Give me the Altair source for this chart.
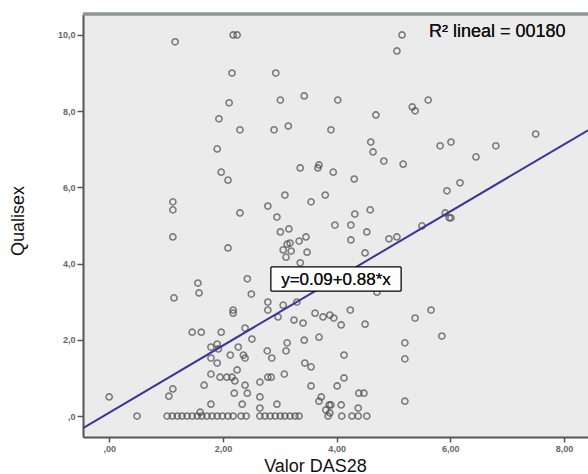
import altair as alt
import pandas as pd

# Valor DAS28 (x) and Qualisex (y)
das28 = [1.16, 2.18, 2.25, 2.16, 2.93, 2.11, 3.01, 3.43, 4.02, 4.69,
         1.93, 2.30, 2.90, 3.15, 3.90, 1.90, 4.60, 4.64, 1.97, 2.09,
         3.36, 3.69, 3.67, 3.94, 4.31, 5.15, 5.06, 5.33, 5.38, 5.61,
         4.83, 5.17, 5.82, 6.01, 6.45, 6.80, 7.50, 5.94, 6.17, 1.12,
         1.12, 2.30, 2.79, 3.09, 2.95, 3.80, 3.55, 4.32, 4.59, 5.91,
         6.01, 5.98, 3.97, 4.25, 4.53, 4.92, 5.06, 5.50, 3.01, 3.16,
         3.18, 3.34, 3.46, 1.12, 2.09, 3.13, 3.06, 3.20, 3.11, 3.48,
         4.25, 4.50, 3.36, 1.56, 1.58, 1.14, 2.43, 2.50, 2.18, 2.18,
         2.79, 2.79, 3.06, 3.30, 4.71, 2.97, 3.25, 3.41, 3.62, 3.76,
         3.88, 4.24, 3.95, 4.08, 4.50, 5.38, 5.66, 5.85, 1.46, 1.62,
         1.97, 2.39, 2.51, 1.79, 1.90, 1.92, 1.79, 1.90, 2.13, 2.27,
         2.36, 2.39, 2.78, 2.86, 3.13, 3.11, 3.43, 3.69, 5.20, 5.20,
         4.13, 3.44, 3.55, 1.79, 1.95, 2.07, 2.16, 2.25, 2.21, 2.65,
         2.79, 2.85, 3.08, 3.55, 4.13, 4.01, 1.67, 2.39, 2.43, 2.20,
         2.65, 1.12, 1.05, 0.00, 1.79, 2.34, 2.65, 2.95, 3.73, 3.69,
         3.81, 3.88, 3.87, 4.39, 4.48, 5.20, 3.90, 4.08, 4.38, 1.60,
         0.49,
         1.02, 1.11, 1.20, 1.28, 1.37, 1.46, 1.55, 1.63, 1.72, 1.81,
         1.90, 1.99, 2.09, 2.18, 2.32, 2.41, 2.65, 2.74, 2.83, 2.92,
         3.01, 3.09, 3.18, 3.27, 3.34, 3.85, 4.09, 4.27, 4.38, 4.53]

qualisex = [9.82, 10.0, 10.0, 9.00, 9.00, 8.22, 8.29, 8.40, 8.29, 7.90,
            7.80, 7.51, 7.51, 7.61, 7.51, 7.01, 7.19, 6.93, 6.40, 6.19,
            6.51, 6.59, 6.51, 6.40, 6.22, 10.0, 9.58, 8.11, 8.01, 8.29,
            6.69, 6.61, 7.09, 7.19, 6.80, 7.09, 7.40, 5.91, 6.12, 5.62,
            5.41, 5.33, 5.51, 5.80, 5.22, 5.80, 5.62, 5.30, 5.41, 5.33,
            5.20, 5.20, 5.01, 5.01, 4.83, 4.65, 4.70, 4.99, 4.83, 4.91,
            4.54, 4.59, 4.70, 4.70, 4.41, 4.51, 4.36, 4.33, 4.17, 4.30,
            4.62, 4.28, 4.02, 3.49, 3.23, 3.10, 3.60, 3.20, 2.78, 2.70,
            2.99, 2.78, 2.91, 2.99, 3.25, 2.60, 2.52, 2.44, 2.70, 2.60,
            2.65, 2.78, 2.57, 2.39, 2.41, 2.57, 2.78, 2.10, 2.20, 2.20,
            2.20, 2.31, 2.02, 1.81, 1.89, 1.76, 1.52, 1.39, 1.60, 1.81,
            1.60, 1.52, 1.71, 1.52, 1.92, 1.71, 1.99, 2.07, 1.92, 1.50,
            1.60, 1.39, 1.29, 1.10, 1.02, 1.02, 1.02, 1.21, 0.92, 0.89,
            1.02, 1.02, 1.10, 0.79, 1.00, 0.79, 0.81, 0.81, 0.60, 0.60,
            0.50, 0.71, 0.52, 0.50, 0.31, 0.31, 0.21, 0.31, 0.50, 0.39,
            0.16, 0.08, 0.29, 0.60, 0.60, 0.39, 0.29, 0.29, 0.21, 0.10,
            0.00,
            0.0, 0.0, 0.0, 0.0, 0.0, 0.0, 0.0, 0.0, 0.0, 0.0,
            0.0, 0.0, 0.0, 0.0, 0.0, 0.0, 0.0, 0.0, 0.0, 0.0,
            0.0, 0.0, 0.0, 0.0, 0.0, 0.0, 0.0, 0.0, 0.0, 0.0]

x_ticks = [0, 2, 4, 6, 8]
y_ticks = [0, 2, 4, 6, 8, 10]
x_domain = [-0.46, 8.42]
y_domain = [-0.55, 10.55]
intercept = 0.09
slope = 0.88

pts = pd.DataFrame({"das28": das28, "qualisex": qualisex})
fit = pd.DataFrame({"das28": x_domain})

W, H = 505, 423
FONT = "Liberation Sans"

x_enc = alt.X(
    "das28:Q",
    scale=alt.Scale(domain=x_domain, nice=False, zero=False),
    axis=alt.Axis(
        values=x_ticks,
        labelExpr="datum.value == 0 ? ',00' : replace(format(datum.value, '.2f'), '.', ',')",
        title="Valor DAS28",
        grid=False,
        domainColor="#555555", domainWidth=2,
        tickColor="#555555", tickSize=5, tickWidth=1.5,
        labelColor="#666666", labelFontSize=9, labelFontWeight="bold",
        labelPadding=2, labelFont=FONT,
        titleFont=FONT, titleFontSize=18, titleFontWeight="normal",
        titleColor="#111111", titleX=232, titleY=34,
        titleAlign="center", titleBaseline="alphabetic",
    ),
)
y_enc = alt.Y(
    "qualisex:Q",
    scale=alt.Scale(domain=y_domain, nice=False, zero=False),
    axis=alt.Axis(
        values=y_ticks,
        labelExpr="datum.value == 0 ? ',0' : replace(format(datum.value, '.1f'), '.', ',')",
        title="Qualisex",
        grid=False,
        domainColor="#555555", domainWidth=2,
        tickColor="#555555", tickSize=6, tickWidth=1.5,
        labelColor="#666666", labelFontSize=9, labelFontWeight="bold",
        labelPadding=2, labelFont=FONT,
        titleFont=FONT, titleFontSize=18, titleFontWeight="normal",
        titleColor="#111111", titleAngle=-90, titleX=-60, titleY=H / 2 - 5,
        titleAlign="center", titleBaseline="alphabetic",
    ),
)

points = alt.Chart(pts).mark_point(
    shape="circle", filled=False, size=38, strokeWidth=1.6, color="#4d4d4d"
).encode(x=x_enc, y=y_enc)

line = alt.Chart(fit).mark_line(color="#35379a", strokeWidth=2, clip=True).transform_calculate(
    fitted=f"{intercept} + {slope} * datum.das28"
).encode(x=alt.X("das28:Q"), y=alt.Y("fitted:Q"))

top_border = alt.Chart(fit).mark_rule(color="#8e9696", strokeWidth=3).encode(
    x=alt.value(0), x2=alt.value(W), y=alt.value(0)
)

r2_text = alt.Chart(fit).mark_text(
    text="R² lineal = 00180", align="left", baseline="alphabetic",
    font=FONT, fontSize=18, color="#111111"
).encode(x=alt.value(346), y=alt.value(23))

box = alt.Chart(fit).mark_rect(fill="white", stroke="black", strokeWidth=1).encode(
    x=alt.value(188), x2=alt.value(318), y=alt.value(253), y2=alt.value(277)
)
eq_text = alt.Chart(fit).mark_text(
    text="y=0.09+0.88*x", align="center", baseline="middle",
    font=FONT, fontSize=17, color="#111111"
).encode(x=alt.value(253), y=alt.value(266))

chart = alt.layer(points, line, top_border, box, eq_text, r2_text).properties(
    width=W, height=H,
    autosize=alt.AutoSizeParams(type="none"),
    padding={"left": 83, "top": 14, "right": 0, "bottom": 37},
    background="white",
).configure_view(fill="#ecebeb", stroke="transparent")

chart.save("out.html", embed_options={"renderer": "svg", "actions": False})
